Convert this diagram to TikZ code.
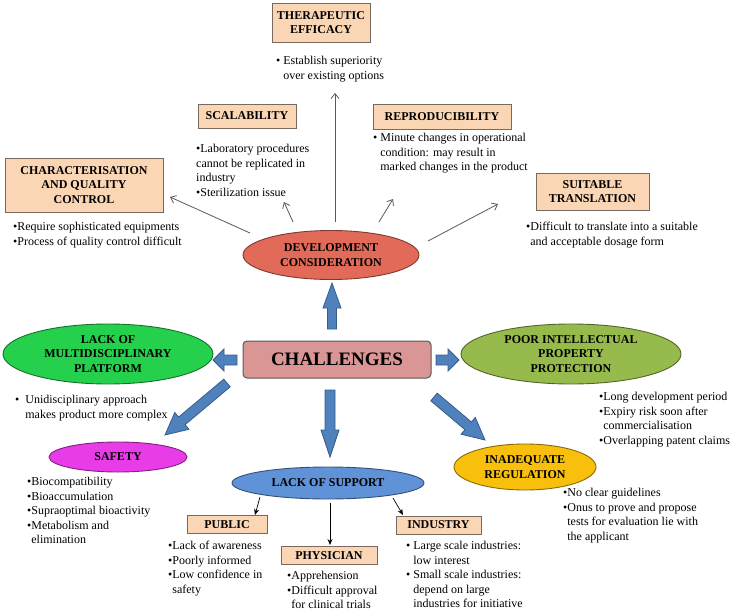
\documentclass[tikz,border=0pt]{standalone}
\usepackage{fontspec}
\setmainfont{Liberation Serif}
\usetikzlibrary{shapes.geometric,arrows.meta,calc}
\definecolor{peach}{RGB}{251,214,180}
\definecolor{boxline}{RGB}{120,105,95}
\definecolor{devred}{RGB}{226,106,88}
\definecolor{chal}{RGB}{218,150,148}
\definecolor{brgreen}{RGB}{36,208,76}
\definecolor{olive}{RGB}{150,186,76}
\definecolor{magen}{RGB}{232,60,232}
\definecolor{supblue}{RGB}{96,146,216}
\definecolor{gold}{RGB}{248,192,12}
\definecolor{arrblue}{RGB}{79,129,189}
\definecolor{arrline}{RGB}{56,93,138}
\definecolor{thingray}{RGB}{90,90,90}
\tikzset{
 hd/.style={font=\bfseries\fontsize{12}{14.5}\selectfont, align=center, text=black},
 pbox/.style={hd, rectangle, draw=boxline, line width=0.9pt, fill=peach, inner sep=0pt},
 oval/.style={hd, ellipse, draw=#1!55!black, line width=0.9pt, fill=#1, inner sep=0pt},
 txt/.style={font=\fontsize{12}{14.5}\selectfont, align=left, anchor=north west, inner sep=0pt},
 thinarr/.style={draw=thingray, line width=0.8pt, -{Straight Barb[length=5pt,width=8pt]}},
 suparr/.style={draw=black, line width=0.7pt, -{Stealth[length=6pt,width=5pt]}},
 barrow/.style={draw=arrline, fill=arrblue, line width=0.8pt, line join=miter},
}
\newcommand{\blockarr}[5]{%
 \draw[barrow] ($(#1)!#3!90:(#2)$) -- ($(#2)!#5!(#1)!#3!270:(#1)$) -- ($(#2)!#5!(#1)!#4!270:(#1)$) -- (#2) -- ($(#2)!#5!(#1)!#4!90:(#1)$) -- ($(#2)!#5!(#1)!#3!90:(#1)$) -- ($(#1)!#3!270:(#2)$) -- cycle;}
\begin{document}
\begin{tikzpicture}[x=1pt,y=-1pt]
\useasboundingbox (0,0) rectangle (737,616);
\fill[white] (0,0) rectangle (737,616);

% top boxes
\node[pbox, minimum width=98pt, minimum height=39pt] (ther) at (321,22.5) {THERAPEUTIC\\EFFICACY};
\node[txt] (thert) at (276,56) {• Establish superiority\\\hphantom{• }over existing options};

\node[pbox, minimum width=98pt, minimum height=24pt] (scal) at (247,116) {SCALABILITY};
\node[txt] (scalt) at (196,144) {•Laboratory procedures\\cannot be replicated in\\industry\\•Sterilization issue};

\node[pbox, minimum width=138pt, minimum height=25pt] (repro) at (442,116.5) {REPRODUCIBILITY};
\node[txt] (reprot) at (373,133) {• Minute changes in operational\\\hphantom{• }condition: may result in\\\hphantom{• }marked changes in the product};

\node[pbox, minimum width=158pt, minimum height=54pt] (char) at (84,185) {CHARACTERISATION\\AND QUALITY\\CONTROL};
\node[txt] (chart) at (13,222) {•Require sophisticated equipments\\•Process of quality control difficult};

\node[pbox, minimum width=113pt, minimum height=37pt] (suit) at (592.5,191.5) {SUITABLE\\TRANSLATION};
\node[txt] (suitt) at (526,222) {•Difficult to translate into a suitable\\\hphantom{•}and acceptable dosage form};

% development
\node[oval=devred, minimum width=176pt, minimum height=49pt] (dev) at (331,255) {DEVELOPMENT\\CONSIDERATION};

\coordinate (dc1) at (250,233); \coordinate (dc2) at (170,197);
\coordinate (ds1) at (293,222); \coordinate (ds2) at (284,202);
\coordinate (dt1) at (335,222); \coordinate (dt2) at (335,93);
\coordinate (dr1) at (379,222); \coordinate (dr2) at (393,199);
\coordinate (du1) at (428,241); \coordinate (du2) at (498,204);
\draw[thinarr] (dc1) -- (dc2);
\draw[thinarr] (ds1) -- (ds2);
\draw[thinarr] (dt1) -- (dt2);
\draw[thinarr] (dr1) -- (dr2);
\draw[thinarr] (du1) -- (du2);

% centre
\node[rectangle, rounded corners=4pt, draw=black!65, line width=1pt, fill=chal, minimum width=188pt, minimum height=37pt, font=\bfseries\fontsize{19}{22}\selectfont] (chal) at (337,359.5) {CHALLENGES};

\node[oval=brgreen, minimum width=210pt, minimum height=60pt] (multi) at (108,354) {LACK OF\\MULTIDISCIPLINARY\\PLATFORM};
\node[txt] (multit) at (15,395) {•\ \ Unidisciplinary approach\\\hphantom{•\ \ }makes product more complex};

\node[oval=olive, minimum width=220pt, minimum height=60pt] (ip) at (571,354) {POOR INTELLECTUAL\\PROPERTY\\PROTECTION};
\node[txt] (ipt) at (599,392) {•Long development period\\•Expiry risk soon after\\\hphantom{•}commercialisation\\•Overlapping patent claims};

\node[oval=magen, minimum width=138pt, minimum height=30pt] (safe) at (118,457) {SAFETY};
\node[txt] (safet) at (27,477) {•Biocompatibility\\•Bioaccumulation\\•Supraoptimal bioactivity\\•Metabolism and\\\hphantom{•}elimination};

\node[oval=gold, minimum width=142pt, minimum height=46pt] (reg) at (525,467) {INADEQUATE\\REGULATION};
\node[txt] (regt) at (563,488) {•No clear guidelines\\•Onus to prove and propose\\\hphantom{•}tests for evaluation lie with\\\hphantom{•}the applicant};

\node[oval=supblue, minimum width=192pt, minimum height=32pt] (sup) at (328,483) {LACK OF SUPPORT};

\node[pbox, minimum width=80pt, minimum height=18pt] (pub) at (227,524.5) {PUBLIC};
\node[txt] (pubt) at (168,541) {•Lack of awareness\\•Poorly informed\\•Low confidence in\\\hphantom{•}safety};

\node[pbox, minimum width=96pt, minimum height=18pt] (phys) at (329,555.5) {PHYSICIAN};
\node[txt] (physt) at (287,571) {•Apprehension\\•Difficult approval\\\hphantom{•}for clinical trials};

\node[pbox, minimum width=85pt, minimum height=18pt] (ind) at (438.5,525) {INDUSTRY};
\node[txt] (indt) at (406,541) {• Large scale industries:\\\hphantom{• }low interest\\• Small scale industries:\\\hphantom{• }depend on large\\\hphantom{• }industries for initiative};

\coordinate (sp1) at (260,497); \coordinate (sp2) at (255,515);
\coordinate (sh1) at (330,503); \coordinate (sh2) at (330,545);
\coordinate (si1) at (393,498); \coordinate (si2) at (403,515);
\draw[suparr] (sp1) -- (sp2);
\draw[suparr] (sh1) -- (sh2);
\draw[suparr] (si1) -- (si2);

% block arrows
\coordinate (bu1) at (332,329); \coordinate (bu2) at (332,283);
\coordinate (bl1) at (237,360); \coordinate (bl2) at (213,360);
\coordinate (br1) at (436,360); \coordinate (br2) at (459,360);
\coordinate (bd1) at (330,390); \coordinate (bd2) at (330,457);
\coordinate (bs1) at (227,383); \coordinate (bs2) at (165,435);
\coordinate (bg1) at (434,397); \coordinate (bg2) at (485,440);
\blockarr{bu1}{bu2}{4.5pt}{9pt}{25pt}
\blockarr{bl1}{bl2}{5pt}{11pt}{11pt}
\blockarr{br1}{br2}{5pt}{11pt}{11pt}
\blockarr{bd1}{bd2}{5pt}{9pt}{27pt}
\blockarr{bs1}{bs2}{5pt}{11pt}{22pt}
\blockarr{bg1}{bg2}{5pt}{11pt}{22pt}
\end{tikzpicture}
\end{document}
